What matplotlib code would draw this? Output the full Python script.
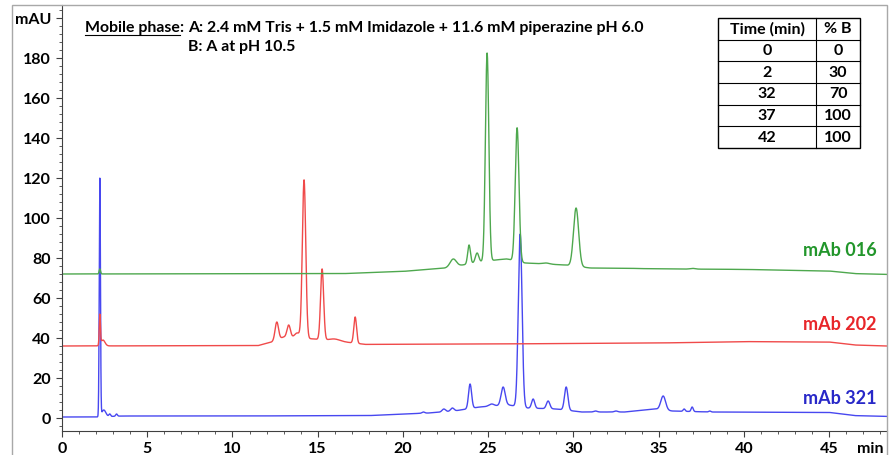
import numpy as np
import matplotlib
matplotlib.use('Agg')
import matplotlib.pyplot as plt
from matplotlib.lines import Line2D
from matplotlib.patches import Rectangle
from matplotlib.ticker import MultipleLocator

plt.rcParams['font.family'] = ['Lato', 'DejaVu Sans']
plt.rcParams['font.weight'] = 'bold'

T_END = 48.4  # run length shown, min

# mAb 016 - baseline knots and peak table (apex mAU, sigma min)
g_base_t = [0, 16.5, 20, 22.5, 24.5, 25.5, 27.2, 29.5, 31, 36, 40, 45, 46.5, 48.4]
g_base_v = [72, 72.2, 73.3, 75, 78, 79, 77.5, 76.5, 75, 74.5, 74.3, 73.5, 72.2, 71.8]
g_peak_t = [2.22, 22.95, 23.88, 24.35, 24.94, 26.1, 26.7, 28.4, 30.16, 33.6, 37.0]
g_peak_h = [74.5, 79.5, 86.5, 82.5, 182.5, 79.5, 145, 77.5, 105, 74.8, 74.8]
g_peak_w = [0.04, 0.18, 0.08, 0.1, 0.1, 0.3, 0.11, 0.2, 0.15, 0.15, 0.15]

# mAb 202
r_base_t = [0, 11.5, 12.3, 13.0, 14.8, 16.6, 17.8, 25, 35, 40, 45, 46.5, 48.4]
r_base_v = [36, 36.2, 38, 40.5, 39.5, 38, 36.8, 37, 37.5, 38.2, 38, 36.5, 36]
r_peak_t = [2.22, 2.4, 12.6, 13.3, 13.8, 14.2, 15.26, 16.0, 17.2]
r_peak_h = [51, 39, 48, 46.5, 42.5, 119, 74.5, 39.5, 50.5]
r_peak_w = [0.035, 0.12, 0.1, 0.1, 0.15, 0.1, 0.09, 0.3, 0.08]

# mAb 321
b_base_t = [0, 2.0, 3.5, 10, 18, 20, 21.5, 23, 24.5, 26.2, 27.3, 29, 30.5, 33, 34.8, 35.8, 38, 45, 46.5, 48.4]
b_base_v = [0.5, 0.5, 1, 1, 1.2, 2, 2.5, 3.5, 5.5, 6.5, 5, 4.5, 3, 3, 4.5, 3.5, 3, 2.8, 1.2, 0.8]
b_peak_t = [2.22, 2.45, 2.8, 3.2, 21.2, 22.4, 22.9, 23.94, 25.2, 25.88, 26.88, 27.64,
            28.52, 29.58, 31.3, 32.5, 35.27, 36.5, 36.97, 38.0]
b_peak_h = [119.5, 4, 2, 2, 3, 4.5, 5, 17, 7, 15.5, 92, 9.5, 8.5, 15.5, 3.5, 3.5, 11, 4.5, 5.5, 3.5]
b_peak_w = [0.035, 0.12, 0.05, 0.05, 0.08, 0.1, 0.1, 0.09, 0.15, 0.12, 0.11, 0.09,
            0.1, 0.1, 0.1, 0.1, 0.14, 0.06, 0.06, 0.06]

# gradient program
table_time = ['0', '2', '32', '37', '42']
table_b = ['0', '30', '70', '100', '100']


def trace(t, base_t, base_v, peak_t, peak_h, peak_w):
    y = np.interp(t, base_t, base_v)
    for pt, ph, pw in zip(peak_t, peak_h, peak_w):
        amp = ph - np.interp(pt, base_t, base_v)
        y = y + amp * np.exp(-0.5 * ((t - pt) / pw) ** 2)
    return y


t = np.linspace(0, T_END, 6000)
# drawn bottom-up: blue first so the red/green injection blips stay visible
traces = [
    (b_base_t, b_base_v, b_peak_t, b_peak_h, b_peak_w, '#4848f0', '#2828c8', 'mAb 321', 10),
    (r_base_t, r_base_v, r_peak_t, r_peak_h, r_peak_w, '#f04a4a', '#e8262a', 'mAb 202', 46.5),
    (g_base_t, g_base_v, g_peak_t, g_peak_h, g_peak_w, '#4ea84e', '#22962b', 'mAb 016', 84),
]

W, H = 893, 455
fig = plt.figure(figsize=(W / 100, H / 100), dpi=100)
fig.patches.append(Rectangle((12 / W, -0.01), 875 / W, 1 - 5 / H + 0.01, transform=fig.transFigure,
                             fill=False, edgecolor='#a8a8a8', lw=1.0))

ax = fig.add_axes([62 / W, 24 / H, 825 / W, 426 / H])
for bt, bv, pt, ph, pw, lc, tc, name, ly in traces:
    ax.plot(t, trace(t, bt, bv, pt, ph, pw), color=lc, lw=1.0)
    ax.text(47.77, ly, name, color=tc, fontsize=13, ha='right', va='center')

ax.set_xlim(0, T_END)
ax.set_ylim(-6.5, 206.5)
for s in ['top', 'right']:
    ax.spines[s].set_visible(False)
for s in ['left', 'bottom']:
    ax.spines[s].set_color('#404040')
ax.set_xticks(range(0, 46, 5))
ax.xaxis.set_minor_locator(MultipleLocator(1))
ax.set_yticks(range(0, 201, 20))
ax.set_yticklabels([str(v) for v in range(0, 181, 20)] + ['mAU'])
ax.yaxis.set_minor_locator(MultipleLocator(4))
ax.tick_params(which='major', length=4, width=0.8, color='#404040', labelsize=11.5, pad=4)
ax.tick_params(which='minor', length=2.5, width=0.6, color='#404040')
ax.annotate('min', xy=(47.4, 0), xycoords=('data', 'axes fraction'), xytext=(0, -8),
            textcoords='offset points', ha='center', va='top', fontsize=11.5)

# mobile phase note with underlined heading
fs = 11.4
x0, yb1, yb2 = 85 / W, 1 - 32 / H, 1 - 50.5 / H
head = fig.text(x0, yb1, 'Mobile phase', fontsize=fs, va='baseline')
fig.canvas.draw()
r = fig.canvas.get_renderer()
bb = head.get_window_extent(r)
fig.add_artist(Line2D([bb.x0 / W, bb.x1 / W], [yb1 - 2.5 / H] * 2, color='black', lw=0.8,
                      transform=fig.transFigure))
colon = fig.text(bb.x1 / W, yb1, ': ', fontsize=fs, va='baseline')
cb = colon.get_window_extent(r)
fig.text(cb.x1 / W, yb1, 'A: 2.4 mM Tris + 1.5 mM Imidazole + 11.6 mM piperazine pH 6.0',
         fontsize=fs, va='baseline')
fig.text(cb.x1 / W, yb2, 'B: A at pH 10.5', fontsize=fs, va='baseline')

# gradient table
tx0, tx1, tmid, ty0, ty1 = 718, 860, 816, 18, 148
tab = fig.add_axes([tx0 / W, 1 - ty1 / H, (tx1 - tx0) / W, (ty1 - ty0) / H])
tab.set_xlim(tx0, tx1)
tab.set_ylim(6, 0)
tab.axis('off')
tab.add_patch(Rectangle((tx0, 0), tx1 - tx0, 6, fill=False, edgecolor='black', lw=1.0, clip_on=False))
for i in range(1, 6):
    tab.plot([tx0, tx1], [i, i], color='black', lw=0.8, clip_on=False)
tab.plot([tmid, tmid], [0, 6], color='black', lw=0.8, clip_on=False)
rows = [('Time (min)', '% B')] + list(zip(table_time, table_b))
for i, (a, b) in enumerate(rows):
    tab.text((tx0 + tmid) / 2, i + 0.52, a, ha='center', va='center', fontsize=11.5)
    tab.text((tmid + tx1) / 2, i + 0.52, b, ha='center', va='center', fontsize=11.5)

fig.savefig('out.png', dpi=100)
